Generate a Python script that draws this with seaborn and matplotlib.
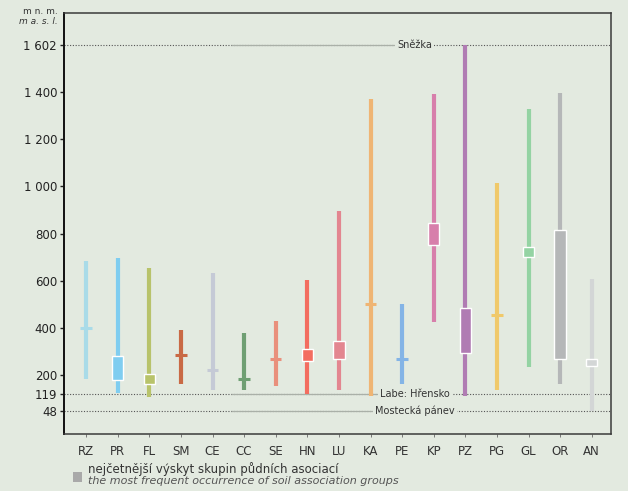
import matplotlib
matplotlib.use("Agg")
import matplotlib.pyplot as plt
import seaborn as sns

# soil association groups and their altitude ranges (m a.s.l.)
groups = ["RZ", "PR", "FL", "SM", "CE", "CC", "SE", "HN", "LU",
          "KA", "PE", "KP", "PZ", "PG", "GL", "OR", "AN"]
alt_min = [185, 125, 105, 162, 136, 136, 153, 119, 136,
           111, 162, 425, 111, 136, 234, 162, 48]
alt_max = [685, 697, 655, 391, 633, 378, 429, 603, 896,
           1372, 501, 1393, 1602, 1015, 1329, 1397, 608]
# most frequent occurrence (lo == hi -> drawn as a short tick)
freq_lo = [400, 180, 160, 285, 222, 183, 268, 260, 270,
           501, 268, 750, 295, 455, 700, 270, 240]
freq_hi = [400, 280, 205, 285, 222, 183, 268, 310, 345,
           501, 268, 845, 485, 455, 745, 815, 268]

colours = ["#a9dbe8", "#7fcdf0", "#b8c36b", "#c96a45", "#c5cad6", "#6f9f73",
           "#e9907c", "#f36d60", "#e38690", "#efb574", "#84b4e6", "#d77fab",
           "#b07cb3", "#f0c96a", "#94d3a3", "#b5b7b8", "#d3d6d6"]

ref_values = [1602, 119, 48]
ref_labels = ["Sněžka", "Labe: Hřensko", "Mostecká pánev"]
yticks = [48, 119, 200, 400, 600, 800, 1000, 1200, 1400, 1602]

bg = "#e3eae0"
sns.set_theme(style="ticks", rc={"axes.facecolor": bg, "figure.facecolor": bg})
plt.rcParams["font.family"] = ["Liberation Sans Narrow", "DejaVu Sans"]

fig = plt.figure(figsize=(6.28, 4.91), dpi=100)
ax = fig.add_axes([64 / 628, 1 - 434 / 491, (611 - 64) / 628, (434 - 13) / 491])

x = list(range(len(groups)))
w = 0.36

# reference altitude lines
for val, lab in zip(ref_values, ref_labels):
    ax.axhline(val, color="#555555", lw=0.8, ls=(0, (1, 1.5)), zorder=1)
    ax.hlines(val, 4.6, 10.0, color="#aab0a8", lw=0.9, zorder=1.5)
    ax.text(10.4, val, lab, ha="center", va="center", fontsize=7, color="#333333",
            bbox=dict(facecolor=bg, edgecolor="none", pad=1.5), zorder=2)

# ranges
ax.vlines(x, alt_min, alt_max, colors=colours, lw=3, zorder=3)

# most frequent occurrence
for i in x:
    if freq_hi[i] > freq_lo[i]:
        ax.bar(i, freq_hi[i] - freq_lo[i], bottom=freq_lo[i], width=w,
               color=colours[i], zorder=4)
    else:
        ax.hlines(freq_lo[i], i - w / 2, i + w / 2, colors=colours[i], lw=2.2, zorder=4)

ax.set_xlim(-0.7, 16.61)
ax.set_ylim(-50, 1736)
ax.set_xticks(x)
ax.set_xticklabels(groups, fontsize=8.5, color="#333333")
ax.set_yticks(yticks)
ax.set_yticklabels([f"{v:,}".replace(",", " ") for v in yticks], fontsize=8.5, color="#222222")
ax.tick_params(axis="y", length=3, width=1, color="#222222", pad=2)
ax.tick_params(axis="x", length=2, width=0.6, color="#666666", pad=6)
for s in ax.spines.values():
    s.set_color("#3a3a3a")
    s.set_linewidth(1.1)
ax.spines["left"].set_linewidth(1.4)
ax.spines["left"].set_color("#111111")

# unit label
fig.text(58 / 628, 1 - 11 / 491, "m n. m.", ha="right", va="center", fontsize=6.5, color="#333333")
fig.text(58 / 628, 1 - 21 / 491, "m a. s. l.", ha="right", va="center", fontsize=6.5,
         style="italic", color="#333333")

# legend
fig.patches.append(plt.Rectangle((73 / 628, 1 - 482 / 491), 9 / 628, 10 / 491,
                                 transform=fig.transFigure, facecolor="#a9a9a9",
                                 edgecolor="none"))
fig.text(88 / 628, 1 - 469 / 491, "nejčetnější výskyt skupin půdních asociací",
         ha="left", va="center", fontsize=8.5, color="#333333")
fig.text(88 / 628, 1 - 481 / 491, "the most frequent occurrence of soil association groups",
         ha="left", va="center", fontsize=8, style="italic", color="#555555")

fig.savefig("out.png", dpi=100, facecolor=bg)
